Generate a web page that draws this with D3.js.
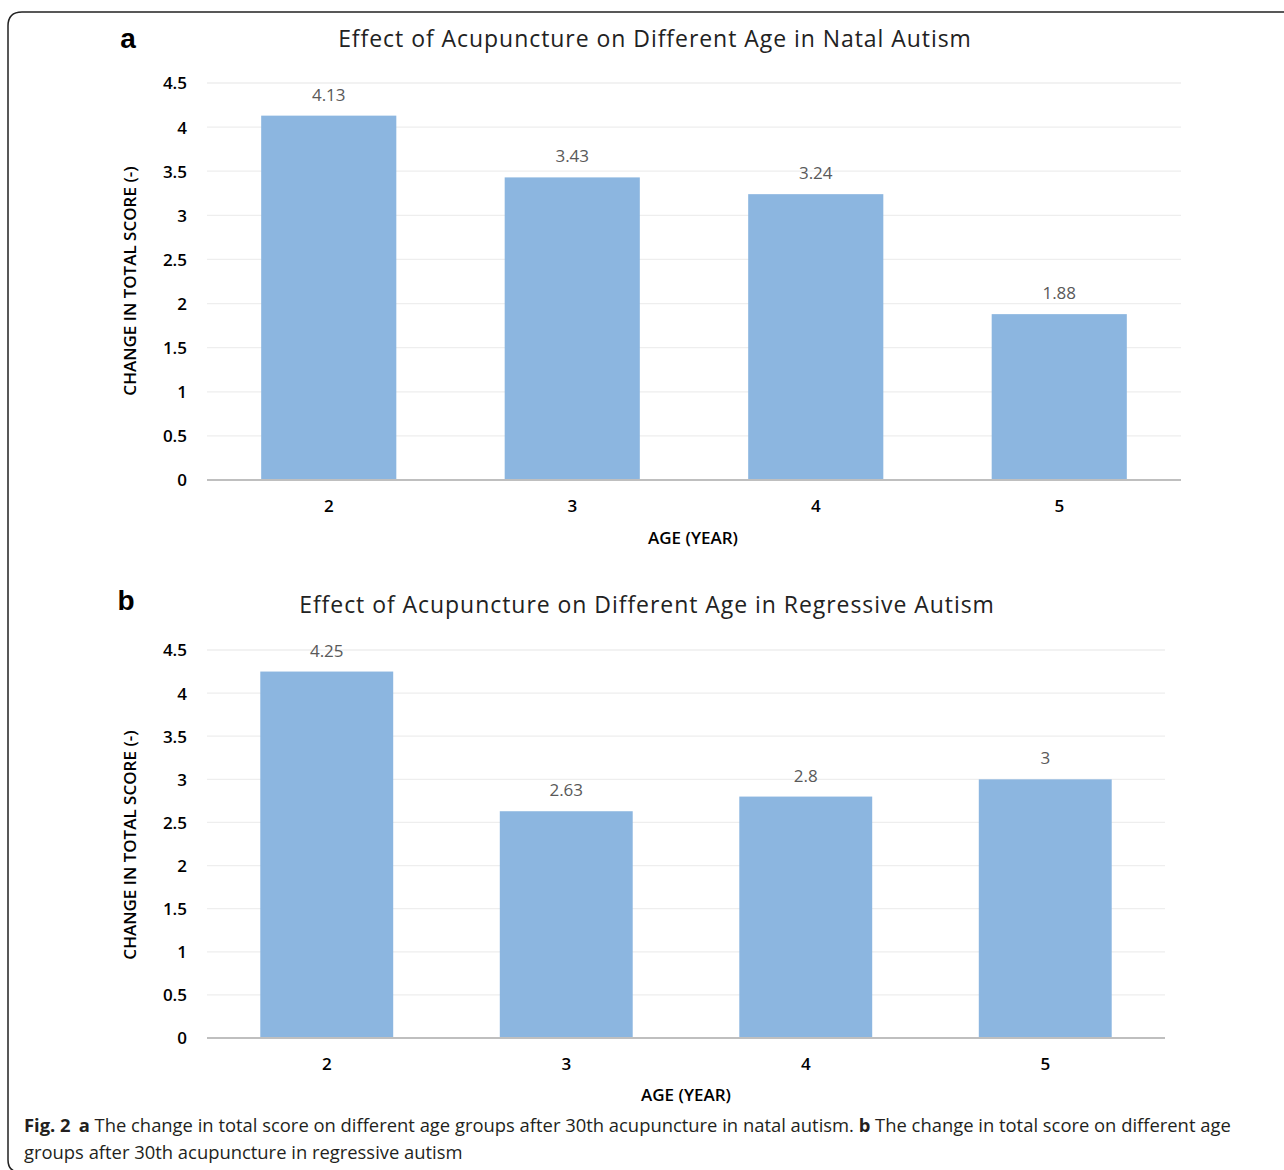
<!DOCTYPE html>
<html><head><meta charset="utf-8">
<script src="https://cdn.jsdelivr.net/npm/d3@7"></script>
<style>body{margin:0;background:#fff}svg{display:block}</style>
</head><body>
<svg id="c" width="1284" height="1170"></svg>
<script>
const categories = ["2","3","4","5"];
const natalValues = [4.13, 3.43, 3.24, 1.88];
const regressiveValues = [4.25, 2.63, 2.8, 3];
const yTicks = [0,0.5,1,1.5,2,2.5,3,3.5,4,4.5];
const natalLabels = ["4.13","3.43","3.24","1.88"];
const regressiveLabels = ["4.25","2.63","2.8","3"];

const svg = d3.select("#c");
svg.append("path").attr("d","M1290,12 H22 Q8,12 8,26 V1160 Q8,1172 20,1172")
  .attr("fill","none").attr("stroke","#222").attr("stroke-width",1.5);

const barColor = "#8cb6e0";
const tickFont = "'Open Sans', 'Liberation Sans', sans-serif";

function panel(cfg){
  const g = svg.append("g");
  const x = d3.scaleBand().domain(categories).range([cfg.x0,cfg.x1]).paddingInner(0.445).paddingOuter(0.2225);
  const y = d3.scaleLinear().domain([0,4.5]).range([cfg.y0,cfg.y1]);
  g.append("g").selectAll("line").data(yTicks.filter(d=>d>0)).join("line")
    .attr("x1",cfg.x0).attr("x2",cfg.x1).attr("y1",d=>y(d)).attr("y2",d=>y(d))
    .attr("stroke","#eeeeee").attr("stroke-width",1.3);
  g.append("g").selectAll("rect").data(cfg.values).join("rect")
    .attr("x",(d,i)=>x(categories[i])).attr("width",x.bandwidth())
    .attr("y",d=>y(d)).attr("height",d=>y(0)-y(d)).attr("fill",barColor);
  g.append("g").selectAll("text").data(cfg.values).join("text")
    .attr("x",(d,i)=>x(categories[i])+x.bandwidth()/2).attr("y",d=>y(d)-15)
    .attr("text-anchor","middle").attr("fill","#595959")
    .style("font-family",tickFont).style("font-size","17px")
    .text((d,i)=>cfg.labels[i]);
  g.append("line").attr("x1",cfg.x0).attr("x2",cfg.x1).attr("y1",y(0)).attr("y2",y(0))
    .attr("stroke","#bfbfbf").attr("stroke-width",2);
  const ya = g.append("g").attr("transform",`translate(${cfg.x0-12},0)`)
    .call(d3.axisLeft(y).tickValues(yTicks).tickSize(0).tickPadding(8).tickFormat(d=>String(d)));
  ya.select(".domain").remove();
  ya.selectAll("text").attr("fill","#000").style("font-family",tickFont).style("font-size","17px").style("font-weight","600").attr("dy","0.35em");
  const xa = g.append("g").attr("transform",`translate(0,${cfg.y0+14})`)
    .call(d3.axisBottom(x).tickSize(0).tickPadding(6));
  xa.select(".domain").remove();
  xa.selectAll("text").attr("fill","#000").style("font-family",tickFont).style("font-size","17px").style("font-weight","600");
  g.append("text").attr("transform",`translate(${cfg.ylx},${cfg.yly}) rotate(-90)`)
    .attr("text-anchor","middle").attr("fill","#000")
    .style("font-family",tickFont).style("font-size","17px").style("font-weight","600")
    .text("CHANGE IN TOTAL SCORE (-)");
  g.append("text").attr("x",cfg.xlx).attr("y",cfg.xly).attr("text-anchor","middle").attr("fill","#000")
    .style("font-family",tickFont).style("font-size","17px").style("font-weight","600")
    .text("AGE (YEAR)");
  g.append("text").attr("x",cfg.tx).attr("y",cfg.ty).attr("text-anchor","middle").attr("fill","#222")
    .style("font-family",tickFont).style("font-size","23px").style("letter-spacing","0.95px")
    .text(cfg.title);
  g.append("text").attr("x",cfg.lx).attr("y",cfg.ly).attr("text-anchor","middle").attr("fill","#000")
    .style("font-family","'Liberation Sans', Arial, sans-serif").style("font-size","28px").style("font-weight","bold")
    .text(cfg.letter);
}

panel({values:natalValues,labels:natalLabels,x0:207,x1:1181,y0:480,y1:83,
  ylx:136,yly:281,xlx:693,xly:544,tx:655,ty:47,title:"Effect of Acupuncture on Different Age in Natal Autism",letter:"a",lx:128,ly:48});
panel({values:regressiveValues,labels:regressiveLabels,x0:207,x1:1165,y0:1038,y1:650,
  ylx:136,yly:845,xlx:686,xly:1101,tx:647,ty:613,title:"Effect of Acupuncture on Different Age in Regressive Autism",letter:"b",lx:126,ly:610});

const capFont = "'Open Sans', 'Noto Sans', sans-serif";
const cap = svg.append("g").style("font-family",capFont).style("font-size","18.4px").attr("fill","#231f20");
const l1 = cap.append("text").attr("x",24).attr("y",1132);
l1.append("tspan").style("font-weight","bold").text("Fig. 2");
l1.append("tspan").style("font-weight","bold").attr("dx","8").text("a");
l1.append("tspan").text(" The change in total score on different age groups after 30th acupuncture in natal autism. ");
l1.append("tspan").style("font-weight","bold").text("b");
l1.append("tspan").text(" The change in total score on different age");
cap.append("text").attr("x",24).attr("y",1159).text("groups after 30th acupuncture in regressive autism");
</script>
</body></html>
